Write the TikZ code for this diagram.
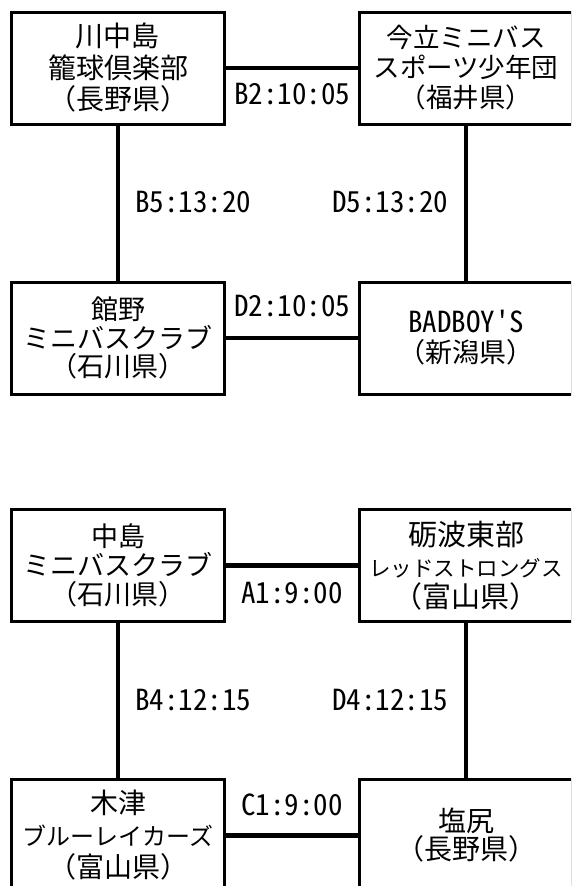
\documentclass[tikz,border=0pt]{standalone}
\usepackage{fontspec}
\newfontfamily\jp{Noto Sans CJK JP}
\newfontfamily\jplab[RawFeature=+hwid]{Noto Sans CJK JP}
\newcommand\fsz[2]{\fontsize{#1}{#2}\selectfont}
\begin{document}
\begin{tikzpicture}[x=1pt,y=-1pt,
  team/.style={draw,line width=3pt,minimum width=213pt,minimum height=112pt,inner sep=0pt,align=center,font=\jp\fsz{27}{30}},
  link/.style={line width=4.5pt},
  lab/.style={inner sep=0pt,font=\jplab\fsz{29}{30}}]
\useasboundingbox (0,0) rectangle (571,886);
\fill[white] (0,0) rectangle (571,886);
\clip (0,0) rectangle (571,886);
% top section
\node[team,font=\jp\fsz{28}{31.5}] (t1) at (118,68) {川中島\\籠球倶楽部\\（長野県）};
\node[team,font=\jp\fsz{26.5}{30}] (t2) at (466,68) {今立ミニバス\\スポーツ少年団\\（福井県）};
\node[team,font=\jp\fsz{27}{28.5}] (t3) at (118,338) {館野\\ミニバスクラブ\\（石川県）};
\node[team] (t4) at (466,338) {{\jplab\fsz{29}{30}BADBOY'S}\\（新潟県）};
\draw[link] (t1.east) -- (t2.west);
\draw[link] (t3.east) -- (t4.west);
\draw[link] (t1.south) -- (t3.north);
\draw[link] (t2.south) -- (t4.north);
\node[lab] (l1) at (292,94) {B2:10:05};
\node[lab] (l2) at (292,306) {D2:10:05};
\node[lab] (l3) at (193,202) {B5:13:20};
\node[lab] (l4) at (390,202) {D5:13:20};
% bottom section
\node[team,font=\jp\fsz{27}{29}] (b1) at (118,565.5) {中島\\ミニバスクラブ\\（石川県）};
\node[team,font=\jp\fsz{29}{31}] (b2) at (466,565.5) {砺波東部\\{\fsz{21.5}{31}レッドストロングス}\\（富山県）};
\node[team,font=\jp\fsz{28}{32}] (b3) at (118,835.5) {木津\\{\fsz{24}{32}ブルーレイカーズ}\\（富山県）};
\node[team,font=\jp\fsz{28}{28}] (b4) at (466,835.5) {塩尻\\（長野県）};
\draw[link] (b1.east) -- (b2.west);
\draw[link] (b3.east) -- (b4.west);
\draw[link] (b1.south) -- (b3.north);
\draw[link] (b2.south) -- (b4.north);
\node[lab] (l5) at (292,593) {A1:9:00};
\node[lab] (l6) at (292,805) {C1:9:00};
\node[lab] (l7) at (193,700) {B4:12:15};
\node[lab] (l8) at (390,700) {D4:12:15};
\end{tikzpicture}
\end{document}
